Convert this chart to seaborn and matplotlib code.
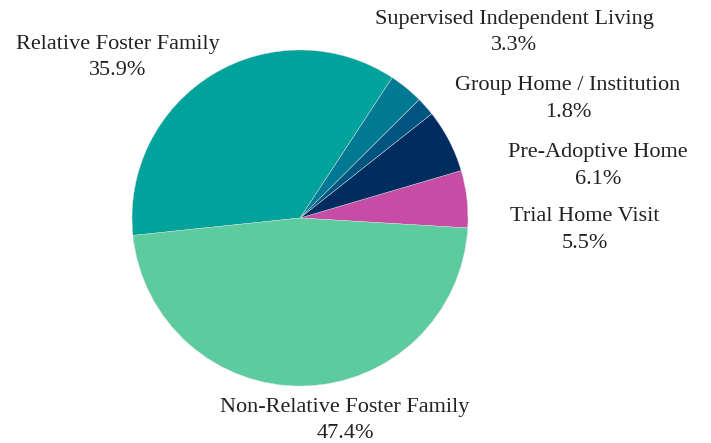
import matplotlib
matplotlib.use("Agg")
import matplotlib.pyplot as plt
import seaborn as sns

categories = ["Trial Home Visit", "Pre-Adoptive Home", "Group Home / Institution",
              "Supervised Independent Living", "Relative Foster Family",
              "Non-Relative Foster Family"]
values = [5.5, 6.1, 1.8, 3.3, 35.9, 47.4]
colors = ["#c64ca6", "#002c5f", "#005580", "#007a94", "#00a39b", "#5ccc9f"]

sns.set_theme(style="white")
plt.rcParams['font.family'] = ['Liberation Serif', 'DejaVu Serif']

fig = plt.figure(figsize=(7.11, 4.43), dpi=100)
ax = fig.add_axes([0, 0, 1, 1])
ax.pie(values, colors=colors, startangle=-3.4, counterclock=True,
       radius=1.0, center=(0, 0),
       wedgeprops=dict(linewidth=0.3, edgecolor="#dddddd"))
ax.set_xlim(-300 / 168, (711 - 300) / 168)
ax.set_ylim((218 - 443) / 168, 218 / 168)
ax.set_aspect("auto")
ax.axis("off")

label_pos = {
    "Trial Home Visit": (1.696, -0.070),
    "Pre-Adoptive Home": (1.774, 0.310),
    "Group Home / Institution": (1.595, 0.710),
    "Supervised Independent Living": (1.274, 1.105),
    "Relative Foster Family": (-1.083, 0.955),
    "Non-Relative Foster Family": (0.268, -1.205),
}
for cat, v in zip(categories, values):
    x, y = label_pos[cat]
    ax.text(x, y, f"{cat}\n{v:.1f}%", ha="center", va="center",
            fontsize=16, color="#222222", linespacing=1.55)

fig.savefig("out.png", dpi=100)
